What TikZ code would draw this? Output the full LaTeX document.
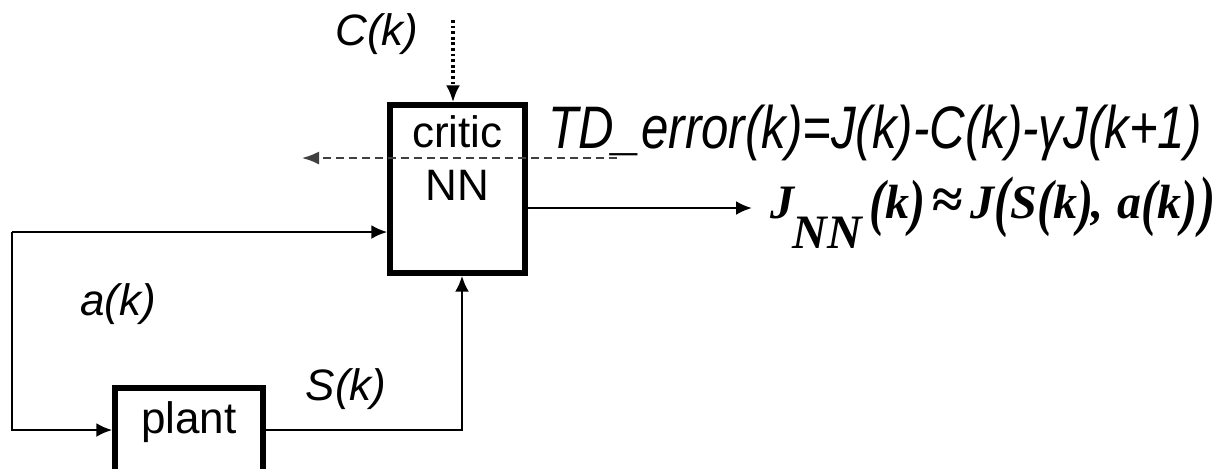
\documentclass[tikz,border=0pt]{standalone}
\usepackage{fontspec}
\usepackage{graphicx}
\setmainfont{Liberation Sans}
\newfontfamily\jfont{Liberation Serif}
\usetikzlibrary{arrows.meta}
\newcommand\mybp[2][1.3]{\raisebox{-2.5pt}{\scalebox{1}[#1]{#2}}}
\begin{document}
\begin{tikzpicture}[x=0.5pt,y=-0.5pt,
  box/.style={draw, line width=2.7pt, inner sep=0pt},
  lbl/.style={font=\fontsize{22}{26}\selectfont, inner sep=0pt},
  ilbl/.style={font=\fontsize{22}{26}\selectfont\itshape, inner sep=0pt},
  conn/.style={line width=1.3pt, -{Latex[length=8pt,width=7pt]}},
  dotconn/.style={line width=1.6pt, dash pattern=on 1.4pt off 1.4pt, -{Latex[length=8.5pt,width=7pt]}},
  dashconn/.style={line width=0.9pt, black!75, dash pattern=on 4pt off 2.5pt, -{Latex[length=8.5pt,width=6.5pt]}},
]
\clip (0,0) rectangle (1231,468);
\fill[white] (0,0) rectangle (1231,468);

% blocks
\node[box, minimum width=67.5pt, minimum height=84pt] (critic) at (457.5,189) {};
\node[box, minimum width=74pt, minimum height=46pt] (plant) at (189,434) {};

% block texts
\node[lbl, anchor=base] (critictxt) at (457.5,147) {critic};
\node[lbl, anchor=base] (nntxt) at (457.5,200) {NN};
\node[lbl, anchor=base] (planttxt) at (189,433) {plant};

% signal labels
\node[ilbl, anchor=base] (ck) at (377,45) {C(k)};
\node[ilbl, anchor=base] (ak) at (118,315) {a(k)};
\node[ilbl, anchor=base] (sk) at (346,400) {S(k)};
\node[font=\fontsize{30}{30}\selectfont\itshape, inner sep=0pt, anchor=base west, xscale=0.82] (td) at (548,148) {TD\_error(k)=J(k)-C(k)-γJ(k+1)};
\node[font=\jfont\bfseries\itshape\fontsize{24}{24}\selectfont, inner sep=0pt, anchor=base west] (jnn) at (770,218)
  {J\kern-1pt\raisebox{-15pt}{NN}\kern4pt\mybp{(}k\mybp{)}\kern3pt{\fontsize{28}{28}\selectfont≈}\kern4pt J\mybp[1.4]{(}S\mybp{(}k\mybp{)}\kern-1pt,\kern7pt a\mybp{(}k\mybp{)}\kern1pt\mybp[1.4]{)}};

% coordinates for connector routing
\coordinate (cTop) at (453,20);
\coordinate (dS) at (617,158);
\coordinate (dE) at (302,158);
\coordinate (jOut) at (752,208);
\coordinate (lTop) at (12,232);
\coordinate (lBot) at (12,430);
\coordinate (sUp) at (462,430);

% connectors
\draw[dotconn] (cTop) -- (cTop |- critic.north);
\draw[dashconn] (dS) -- (dE);
\draw[conn] (critic.east |- jOut) -- (jOut);
\draw[conn] (lTop) -- (critic.west |- lTop);
\draw[conn] (lTop) -- (lBot) -- (plant.west |- lBot);
\draw[conn] (plant.east |- sUp) -- (sUp) -- (sUp |- critic.south);
\end{tikzpicture}
\end{document}
